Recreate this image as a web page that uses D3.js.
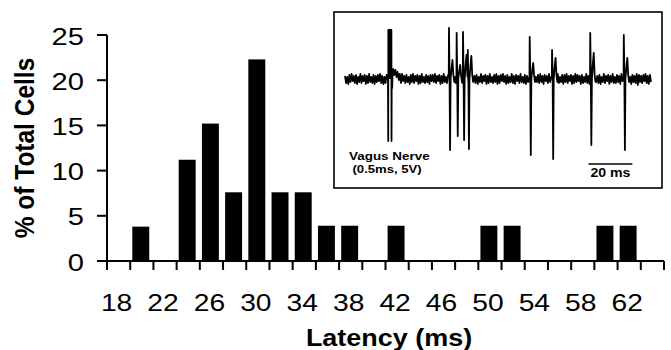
<!DOCTYPE html>
<html><head><meta charset="utf-8">
<script src="https://cdn.jsdelivr.net/npm/d3@7/dist/d3.min.js"></script>
<style>html,body{margin:0;padding:0;background:#fff}svg{display:block}text{font-family:"Liberation Sans",Arial,Helvetica,sans-serif;fill:#000}</style>
</head><body><svg id="c" width="671" height="350"></svg>
<script>
// ---- histogram data ----
const latencyBins = [18,20,22,24,26,28,30,32,34,36,38,40,42,44,46,48,50,52,54,56,58,60,62,64];
const xTickLabels = [18,22,26,30,34,38,42,46,50,54,58,62];
const yTickValues = [0,5,10,15,20,25];
const barLatency = [20,24,26,28,30,32,34,36,38,42,50,52,60,62];
const barPercent = [3.8,11.2,15.2,7.6,22.3,7.6,7.6,3.9,3.9,3.9,3.9,3.9,3.9,3.9];
const xTitle = "Latency (ms)";
const yTitle = "% of Total Cells";

// ---- inset trace data (ms, arbitrary units) ----
const traceStep = 0.5;
const traceNoise = [
 3,-4,2,-5,4,-3,5,-2,3,-4,4,-5,2,-3,5,-4,3,-2,4,-5,
 3,-4,5,-3,2,-4,4,-5,3,-3,4,-2,5,-4,3,-5,2,-4,4,-3,
 5,-3,8,3,10,4,9,2,7,-1,5,-4,5,-2,3,-4,4,-3,2,-5,
 4,-3,5,-4,3,-2,4,-5,3,-4,5,-3,2,-4,4,-3,3,-5,4,-2,
 4,-3,5,-4,3,-2,4,-5,3,-4,5,-3,2,-4,4,-3,3,-5,4,-2,
 2,-4,4,-5,3,-3,5,-4,2,-3,4,-4,3,-5,5,-2,4,-3,3,-4,
 4,-5,2,-3,5,-4,3,-2,4,-5,3,-4,5,-3,2,-4,4,-3,5,-5,
 3,-4,4,-2,5,-3,3,-5,4,-4,2,-3,5,-4,3,-5,4,-2,3,-4,
 5,-3,2,-4,4,-5,3,-3,5,-2,4,-4,3,-5,2,-3,4,-4,5,-3,
 3,-5,4,-2,3,-4,5,-3,2,-4,4,-5,3,-3,5,-4,2,-3,4,-5,
 4,-3,5,-4,3,-2,4,-5,3,-4,5,-3,4,-2,3,-5,4,-4,2,-3,
 5,-4,3,-5,4,-3,2,-4,5,-3,3,-4,4,-5,2,-3,5,-4,3,-2,
 4,-5,3,-3,5,-4,2,-4,4,-3,3,-5,5,-2,4,-4,3,-3,5,-4,
 2,-5,4,-3,3,-4,5,-6,4,-3,3,-4,4,-2,5,-4,3,-5,4,-3];
const spikeTime  = [47.4, 50.9, 53.8, 56.0, 84.2, 94.4, 111.8, 127.1];
const spikeUp    = [51, 46, 47, 29, 42, 29, 46, 44];
const spikeDown  = [-71, -57, -61, -70, -76, -80, -66, -71];
const spikeAfter = [19, 14, 24, 23, 16, 21, 26, 21];
const stimStart = 19.7, stimEnd = 21.2, stimUp = 49, stimDown = -62;
const scaleBarStart = 111, scaleBarLen = 20;
const insetLabel1 = "Vagus Nerve", insetLabel2 = "(0.5ms, 5V)", scaleBarLabel = "20 ms";

const svg = d3.select("#c");

// scales
const x = d3.scaleBand().domain(latencyBins).range([107, 664]).padding(0);
const y = d3.scaleLinear().domain([0, 25]).range([261, 35]);
const step = x.step();

function stretchedText(g, txt, px, py, size, sx, anchor, weight) {
  return g.append("text")
    .attr("transform", `translate(${px},${py}) scale(${sx},1)`)
    .attr("text-anchor", anchor)
    .attr("font-size", size)
    .attr("font-weight", weight || "normal")
    .text(txt);
}

// bars
svg.append("g").selectAll("rect").data(barLatency).join("rect")
  .attr("x", (d) => x(d) + step * 0.09)
  .attr("width", step * 0.73)
  .attr("y", (d, i) => y(barPercent[i]))
  .attr("height", (d, i) => y(0) - y(barPercent[i]))
  .attr("fill", "#000");

// axes
const ax = svg.append("g").attr("stroke", "#000").attr("stroke-width", 2);
ax.append("line").attr("x1", 97).attr("x2", x.range()[1]).attr("y1", y(0)).attr("y2", y(0));
ax.append("line").attr("x1", x.range()[0]).attr("x2", x.range()[0]).attr("y1", y(25)).attr("y2", y(0) + 9);
const edges = latencyBins.map(d => x(d)).concat([x.range()[1]]);
ax.selectAll(".xt").data(edges).join("line")
  .attr("x1", d => d).attr("x2", d => d).attr("y1", y(0)).attr("y2", y(0) + 9);
ax.selectAll(".yt").data(yTickValues).join("line")
  .attr("x1", 97).attr("x2", x.range()[0]).attr("y1", d => y(d)).attr("y2", d => y(d));

// tick labels
const lab = svg.append("g");
xTickLabels.forEach(v => stretchedText(lab, String(v), x(v) + step / 2 - 2, 311, 23.5, 1.2, "middle"));
yTickValues.forEach(v => stretchedText(lab, String(v), 84, y(v) + 9.5, 23.5, 1.24, "end"));

// titles
stretchedText(lab, xTitle, 389, 346, 24.5, 1.1, "middle", "bold");
lab.append("text")
  .attr("transform", "translate(34,148) scale(1.15,1) rotate(-90)")
  .attr("text-anchor", "middle").attr("font-size", 24.5).attr("font-weight", "bold")
  .text(yTitle);

// ---- inset ----
const inset = svg.append("g");
inset.append("rect").attr("x", 334).attr("y", 12).attr("width", 328).attr("height", 176)
  .attr("fill", "#fff").attr("stroke", "#000").attr("stroke-width", 1.6);

const t = d3.scaleLinear().domain([0, (traceNoise.length - 1) * traceStep]).range([345, 651]);
const v = d3.scaleLinear().domain([-80, 50]).range([159, 29]);

let pts = traceNoise.map((val, i) => [i * traceStep, val]);
const windows = spikeTime.map(s => [s - 0.2, s + 2.5]).concat([[stimStart - 0.2, stimEnd + 0.4]]);
pts = pts.filter(p => !windows.some(w => p[0] >= w[0] && p[0] <= w[1]));
spikeTime.forEach((s, i) => {
  pts.push([s - 0.1, 2], [s, spikeUp[i]], [s + 0.25, 5], [s + 0.5, spikeDown[i]], [s + 0.75, 0],
           [s + 1.2, spikeAfter[i] * 0.6], [s + 1.6, spikeAfter[i]], [s + 2.0, 4], [s + 2.4, -3]);
});
pts.push([stimStart - 0.1, 0], [stimStart, stimDown], [stimStart + 0.05, stimUp], [stimEnd - 0.05, stimUp],
         [stimEnd, stimDown], [stimEnd + 0.1, 3], [stimEnd + 0.3, -9], [stimEnd + 0.5, 5]);
pts.sort((a, b) => a[0] - b[0]);

inset.append("rect")
  .attr("x", t(stimStart)).attr("width", t(stimEnd) - t(stimStart))
  .attr("y", v(stimUp)).attr("height", v(0) - v(stimUp)).attr("fill", "#000");
inset.append("path")
  .attr("d", d3.line().x(d => t(d[0])).y(d => v(d[1]))(pts))
  .attr("fill", "none").attr("stroke", "#000").attr("stroke-width", 1.8).attr("stroke-linejoin", "round");

// scale bar
inset.append("line").attr("x1", t(scaleBarStart)).attr("x2", t(scaleBarStart + scaleBarLen))
  .attr("y1", 164).attr("y2", 164).attr("stroke", "#000").attr("stroke-width", 1.5);
stretchedText(inset, scaleBarLabel, (t(scaleBarStart) + t(scaleBarStart + scaleBarLen)) / 2, 177, 12, 1.18, "middle", "bold");
stretchedText(inset, insetLabel1, 349, 160, 11.5, 1.17, "start", "bold");
stretchedText(inset, insetLabel2, 352.5, 172.5, 11, 1.19, "start", "bold");
</script></body></html>
